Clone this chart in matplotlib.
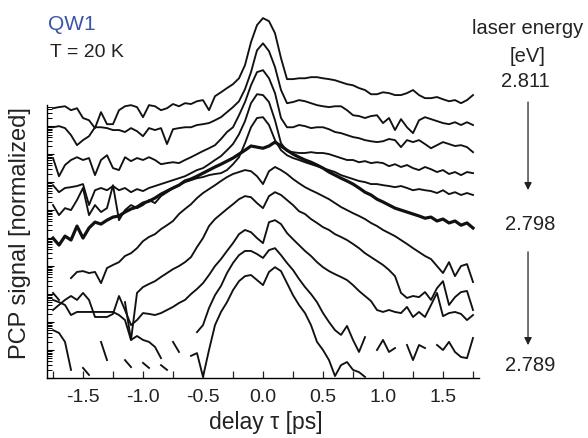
import numpy as np
import matplotlib
matplotlib.use('Agg')
import matplotlib.pyplot as plt

plt.rcParams['font.family'] = ['Liberation Sans', 'DejaVu Sans']
plt.rcParams['axes.unicode_minus'] = False

nan = np.nan
delay = np.linspace(-1.75, 1.75, 71)  # ps

# log10 of the stacked PCP signal, one list per laser energy (2.811 eV first)
t1 = [9.64, 9.68, 9.71, 9.57, 9.64, 9.29, 9.21, 8.93, 9.50, 9.07,
      9.07, 9.57, 9.71, 9.75, 9.68, 9.32, 9.75, 9.71, 9.57, 9.64,
      9.79, 9.71, 9.82, 9.79, 9.89, 9.93, 9.57, 10.07, 10.21, 10.36,
      10.50, 10.71, 11.18, 12.00, 12.61, 12.86, 12.75, 12.32, 11.43, 10.68,
      10.68, 10.71, 10.71, 10.75, 10.75, 10.71, 10.68, 10.64, 10.57, 10.50,
      10.46, 10.36, 10.29, 10.14, 10.14, 10.21, 10.18, 10.11, 10.11, 10.18,
      10.29, 10.11, 10.00, 10.00, 10.04, 9.96, 9.89, 9.93, 9.82, 9.93,
      10.11]
t2 = [8.96, 9.00, 8.93, 8.68, 8.32, 8.50, 8.64, 8.96, 8.96, 8.93,
      8.86, 8.86, 8.79, 8.93, 8.82, 8.64, 8.93, 8.86, 8.93, 8.36,
      8.89, 8.93, 8.96, 8.96, 9.04, 9.07, 9.11, 9.21, 9.32, 9.50,
      9.68, 9.89, 10.32, 10.93, 11.71, 11.96, 11.68, 11.11, 10.29, 9.82,
      9.86, 9.93, 9.89, 9.82, 9.75, 9.71, 9.68, 9.71, 9.71, 9.57,
      9.39, 9.36, 9.29, 9.36, 9.39, 9.11, 9.29, 8.86, 9.25, 8.96,
      8.75, 9.21, 9.32, 9.25, 9.18, 9.11, 9.07, 9.14, 9.04, 9.14,
      9.04]
t3 = [7.86, 7.21, 7.61, 7.79, 7.89, 7.79, 7.86, 7.25, 7.79, 7.96,
      7.50, 7.43, 7.89, 7.75, 7.86, 7.79, 7.89, 7.79, 7.64, 7.68,
      7.71, 7.68, 7.79, 7.89, 8.00, 8.11, 8.21, 8.32, 8.54, 8.79,
      8.96, 9.39, 9.86, 10.46, 10.93, 11.00, 10.71, 10.18, 9.29, 8.96,
      8.96, 9.04, 9.00, 8.93, 8.96, 8.96, 8.89, 8.79, 8.75, 8.68,
      8.61, 8.57, 8.50, 8.46, 8.43, 8.46, 8.54, 8.50, 8.25, 8.50,
      8.43, 8.50, 8.36, 8.21, 8.32, 8.43, 8.36, 8.29, 8.32, 8.25,
      8.07]
t4 = [6.89, 6.64, 6.79, 6.82, 6.86, 6.93, 6.18, 6.71, 6.79, 6.71,
      6.86, 6.71, 6.79, 6.64, 6.75, 6.68, 6.79, 6.86, 6.93, 7.00,
      7.07, 7.14, 7.21, 7.32, 7.43, 7.50, 7.64, 7.79, 7.93, 8.14,
      8.36, 8.71, 9.18, 9.82, 10.14, 10.11, 9.86, 9.21, 8.39, 8.11,
      8.07, 8.04, 8.04, 8.07, 8.04, 8.04, 8.00, 7.93, 7.86, 7.79,
      7.79, 7.71, 7.75, 7.68, 7.71, 7.68, 7.57, 7.64, 7.54, 7.61,
      7.50, 7.43, 7.54, 7.46, 7.36, 7.43, 7.29, 7.36, 7.25, 7.36,
      7.32]
t5 = [6.18, 5.82, 6.07, 6.00, 6.36, 6.79, 5.82, 6.18, 5.93, 6.07,
      6.89, 5.64, 6.00, 6.18, 6.07, 6.18, 6.36, 6.25, 6.50, 6.64,
      6.79, 6.89, 7.00, 7.07, 7.14, 7.18, 7.25, 7.29, 7.32, 7.43,
      7.64, 7.89, 8.39, 8.96, 9.29, 9.32, 9.04, 8.50, 8.14, 7.96,
      7.86, 7.79, 7.71, 7.64, 7.57, 7.50, 7.43, 7.36, 7.25, 7.18,
      7.11, 7.04, 7.00, 6.93, 6.93, 6.89, 6.86, 6.82, 6.86, 6.79,
      6.71, 6.75, 6.71, 6.68, 6.61, 6.71, 6.57, 6.64, 6.54, 6.61,
      6.54]
t6 = [5.00, 4.75, 5.07, 4.93, 5.43, 5.00, 5.36, 5.57, 5.50, 5.64,
      5.75, 5.79, 5.93, 6.04, 6.11, 6.25, 6.32, 6.43, 6.57, 6.68,
      6.79, 6.89, 7.04, 7.11, 7.21, 7.32, 7.43, 7.54, 7.64, 7.75,
      7.86, 8.00, 8.14, 8.29, 8.25, 8.21, 8.29, 8.43, 8.29, 8.14,
      8.00, 7.89, 7.79, 7.71, 7.61, 7.50, 7.36, 7.25, 7.14, 7.04,
      6.93, 6.79, 6.64, 6.54, 6.39, 6.29, 6.18, 6.07, 6.00, 5.93,
      5.86, 5.79, 5.71, 5.75, 5.61, 5.68, 5.54, 5.61, 5.46, 5.54,
      5.36]
t7 = [nan, 3.93, nan, 3.57, 3.79, 3.82, 3.75, 3.79, 3.39, 3.93,
      4.04, 4.14, 4.36, 4.46, 4.64, 4.89, 5.04, 5.14, 5.32, 5.46,
      5.61, 5.86, 6.04, 6.21, 6.43, 6.61, 6.75, 6.89, 7.04, 7.18,
      7.29, 7.36, 7.43, 7.39, 7.21, 6.93, 7.39, 7.54, 7.43, 7.29,
      7.11, 6.96, 6.82, 6.71, 6.61, 6.50, 6.39, 6.25, 6.11, 6.00,
      5.89, 5.79, 5.68, 5.54, 5.43, 5.29, 5.18, 5.07, 4.93, 4.79,
      4.64, 4.50, 4.36, 4.25, 4.00, 3.75, 4.14, 3.64, 4.00, 4.07,
      3.43]
t8 = [2.79, 2.71, 2.61, 2.25, 2.36, 2.36, 2.36, 2.36, 2.36, 2.36,
      2.36, 2.25, 2.07, 1.36, 3.04, 3.25, 3.36, 3.46, 3.61, 3.75,
      3.89, 4.00, 4.14, 4.32, 4.68, 5.00, 5.43, 5.68, 5.86, 6.04,
      6.21, 6.39, 6.50, 6.46, 6.25, 6.07, 6.50, 6.64, 6.54, 6.36,
      6.18, 5.96, 5.86, 5.68, 5.54, 5.39, 5.29, 5.14, 5.04, 4.93,
      4.79, 4.64, 4.46, 4.32, 4.18, 4.04, 3.86, 3.64, 3.04, 2.86,
      2.93, 2.89, 3.07, 2.79, 3.21, 3.46, 2.61, 2.89, 3.07, 3.11,
      2.43]
t9 = [2.43, 2.61, 2.79, 2.93, 2.79, 3.04, 2.79, 2.18, 2.18, 2.18,
      2.29, 2.93, 2.43, 1.89, 2.07, 2.32, 2.29, 2.25, 2.32, 2.43,
      2.54, 2.68, 2.79, 3.00, 3.18, 3.39, 3.68, 4.00, 4.25, 4.54,
      4.82, 5.14, 5.29, 5.21, 5.00, 4.82, 5.57, 5.64, 5.50, 5.18,
      4.96, 4.75, 4.54, 4.36, 4.14, 3.96, 3.82, 3.71, 3.61, 3.50,
      3.32, 3.11, 2.93, 2.75, 2.43, 2.36, 2.43, 2.36, 2.32, 2.54,
      2.18, 2.36, 2.18, 2.61, 3.04, 2.21, 2.32, 2.36, 2.29, 2.07,
      2.25]
t10 = [3.04, 2.79, nan, nan, nan, nan, nan, nan, 1.29, 0.64,
       nan, nan, 2.71, 1.36, 1.50, 1.36, 1.29, 1.11, 0.71, nan,
       1.29, 0.93, nan, nan, 1.64, 1.89, 2.50, 2.96, 3.29, 3.75,
       4.11, 4.39, 4.54, 4.54, 4.43, 4.29, 4.57, 4.64, 4.39, 4.11,
       3.86, 3.54, 3.25, 3.00, 2.71, 2.32, 2.00, 1.71, 1.54, 1.86,
       1.36, 0.93, 1.46, nan, 1.00, 1.36, 0.93, 1.07, nan, 1.18,
       0.64, 1.18, 1.07, nan, 1.18, 1.00, 1.29, 0.93, 0.75, 0.71,
       1.43]
t11 = [1.71, 1.61, 1.29, 0.29, nan, 0.36, 0.11, nan, nan, nan,
       nan, nan, 0.64, 0.39, nan, 0.54, 0.36, nan, 0.46, 0.29,
       nan, nan, nan, 0.79, 0.89, 0.04, 1.00, 1.89, 2.36, 2.71,
       3.14, 3.46, 3.64, 3.68, 3.50, 3.32, 3.79, 3.96, 3.82, 3.39,
       2.96, 2.61, 2.32, 1.89, 1.29, 1.00, 0.64, 0.07, 0.46, 0.57,
       0.29, 0.21, 0.04, nan, nan, nan, nan, nan, nan, nan,
       nan, nan, nan, nan, nan, nan, nan, nan, nan, nan,
       nan]

traces = [t1, t2, t3, t4, t5, t6, t7, t8, t9, t10, t11]
bold_trace = 5  # 2.798 eV

fig = plt.figure(figsize=(5.88, 4.38), dpi=100)
ax = fig.add_axes([47/588, 60/438, 432/588, 368/438])

for i, tr in enumerate(traces):
    lw = 2.3 if i == bold_trace else 1.35
    ax.plot(delay, 10**np.array(tr), color='#111111', lw=lw, solid_joinstyle='round')

ax.set_yscale('log')
ax.set_xlim(-1.8, 1.8)
ax.set_ylim(1, 10**13.15)

for s in ['top', 'right']:
    ax.spines[s].set_visible(False)
ax.spines['left'].set_bounds(1, 10**9.75)
ax.spines['left'].set_linewidth(1.0)
ax.spines['bottom'].set_linewidth(1.0)

ax.set_xticks([-1.5, -1.0, -0.5, 0.0, 0.5, 1.0, 1.5])
ax.set_xticklabels(['-1.5', '-1.0', '-0.5', '0.0', '0.5', '1.0', '1.5'])
ax.set_xticks([-1.75, -1.25, -0.75, -0.25, 0.25, 0.75, 1.25, 1.75], minor=True)

major_y = [10.0**k for k in range(10)]
minor_y = [m * 10.0**k for k in range(10) for m in range(2, 10) if m * 10.0**k < 10**9.75]
ax.set_yticks(major_y)
ax.set_yticks(minor_y, minor=True)
ax.set_yticklabels([])
ax.set_yticklabels([], minor=True)

ax.tick_params(axis='x', which='both', direction='in', length=5, width=0.9,
               labelsize=14, pad=8, colors='#222222')
ax.tick_params(axis='y', which='major', direction='in', length=5, width=0.8)
ax.tick_params(axis='y', which='minor', direction='in', length=3.5, width=0.7)

txt = '#222222'
fig.text(0.0816, 0.9315, 'QW1', color='#3a55a8', fontsize=15, va='baseline')
fig.text(0.085, 0.870, 'T = 20 K', color=txt, fontsize=14, va='baseline')
fig.text(0.898, 0.9224, 'laser energy', color=txt, fontsize=14.5, ha='center', va='baseline')
fig.text(0.898, 0.8584, '[eV]', color=txt, fontsize=14.5, ha='center', va='baseline')
fig.text(0.893, 0.8014, '2.811', color=txt, fontsize=14.5, ha='center', va='baseline')
fig.text(0.9014, 0.4749, '2.798', color=txt, fontsize=14.5, ha='center', va='baseline')
fig.text(0.9014, 0.1530, '2.789', color=txt, fontsize=14.5, ha='center', va='baseline')

arrow = dict(arrowstyle='-|>', color=txt, lw=0.9, mutation_scale=11, shrinkA=0, shrinkB=0)
ax.annotate('', xy=(0.898, 0.566), xytext=(0.898, 0.767),
            xycoords='figure fraction', arrowprops=arrow, annotation_clip=False)
ax.annotate('', xy=(0.898, 0.212), xytext=(0.898, 0.425),
            xycoords='figure fraction', arrowprops=arrow, annotation_clip=False)

fig.text(0.034, 0.468, 'PCP signal [normalized]', color=txt, fontsize=17,
         rotation=90, ha='center', va='center')
fig.text(0.4524, 0.0205, 'delay τ [ps]', color=txt, fontsize=16.5, ha='center', va='baseline')

fig.savefig('out.png', dpi=100)
